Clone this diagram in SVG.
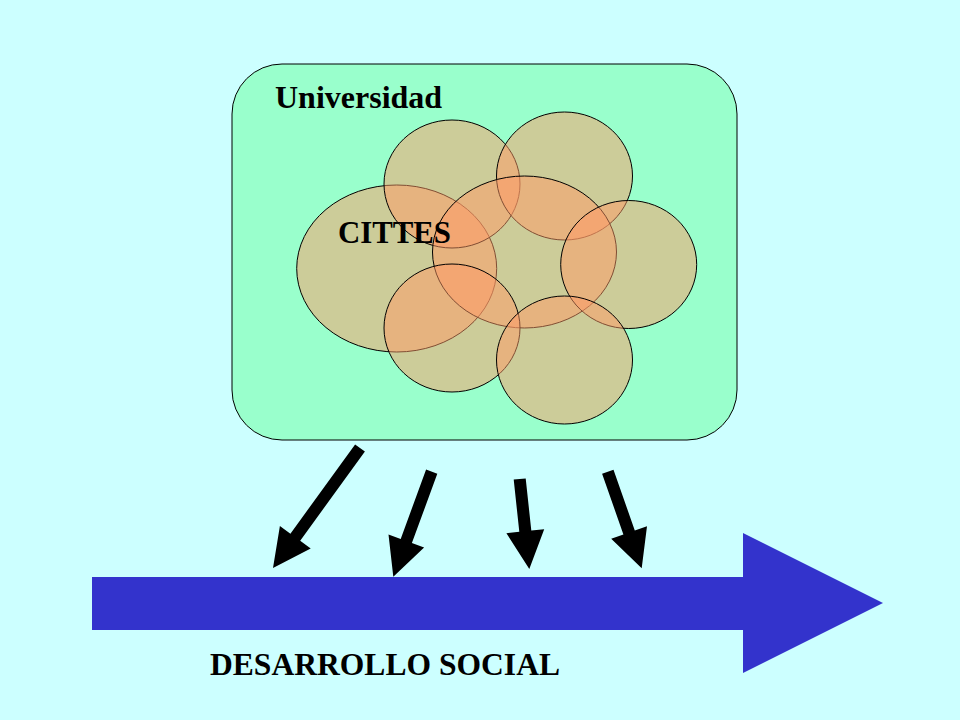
<svg xmlns="http://www.w3.org/2000/svg" width="960" height="720" viewBox="0 0 960 720">
<style>
.lbl{font-family:"Liberation Serif","Times New Roman",serif;font-weight:bold;font-size:32px;fill:#000}
.cir{fill:#FF9966;fill-opacity:0.5;stroke:#000;stroke-width:1}
.arr{fill:#000}
</style>
<rect x="0" y="0" width="960" height="720" fill="#CCFFFF"/>
<g id="universidad">
<rect x="232" y="64" width="505" height="376" rx="50" ry="50" fill="#99FFCC" stroke="#000" stroke-width="1"/>
<text class="lbl" x="275" y="108">Universidad</text>
</g>
<g id="cittes">
<ellipse class="cir" cx="396.7" cy="268.5" rx="100" ry="83.5"/>
</g>
<g id="circle-top-left"><ellipse class="cir" cx="452" cy="184" rx="68" ry="64"/></g>
<g id="circle-top-right"><ellipse class="cir" cx="564.5" cy="176" rx="68" ry="64"/></g>
<g id="circle-center"><ellipse class="cir" cx="524.5" cy="252" rx="92" ry="76"/></g>
<g id="circle-right"><ellipse class="cir" cx="628.7" cy="264.5" rx="68" ry="64"/></g>
<g id="circle-bottom-left"><ellipse class="cir" cx="452" cy="328" rx="68" ry="64"/></g>
<g id="circle-bottom-right"><ellipse class="cir" cx="564.5" cy="360" rx="68" ry="64"/></g>
<g id="cittes-label">
<text class="lbl" x="338" y="243" textLength="113" lengthAdjust="spacingAndGlyphs">CITTES</text>
</g>
<g id="connectors">
<polygon class="arr" points="364.9,451.5 300.2,540.7 310.7,548.4 273,568 279.9,526 290.4,533.7 355.1,444.5"/>
<polygon class="arr" points="437.3,473.8 411.9,543.1 424.1,547.5 393.3,576.7 388.5,534.5 400.7,538.9 426.1,469.6"/>
<polygon class="arr" points="525.7,478.4 531.3,530.6 544.2,529.2 529.3,569 506.4,533.2 519.3,531.8 513.7,479.6"/>
<polygon class="arr" points="613.5,469.7 634.8,530.5 647,526.2 641.7,568.3 611.2,538.8 623.4,534.5 602.1,473.7"/>
</g>
<g id="desarrollo-social">
<polygon points="92,577 743,577 743,533 883,603 743,673 743,630 92,630" fill="#3333CC"/>
<text class="lbl" x="210" y="675" textLength="350" lengthAdjust="spacingAndGlyphs">DESARROLLO SOCIAL</text>
</g>
</svg>
